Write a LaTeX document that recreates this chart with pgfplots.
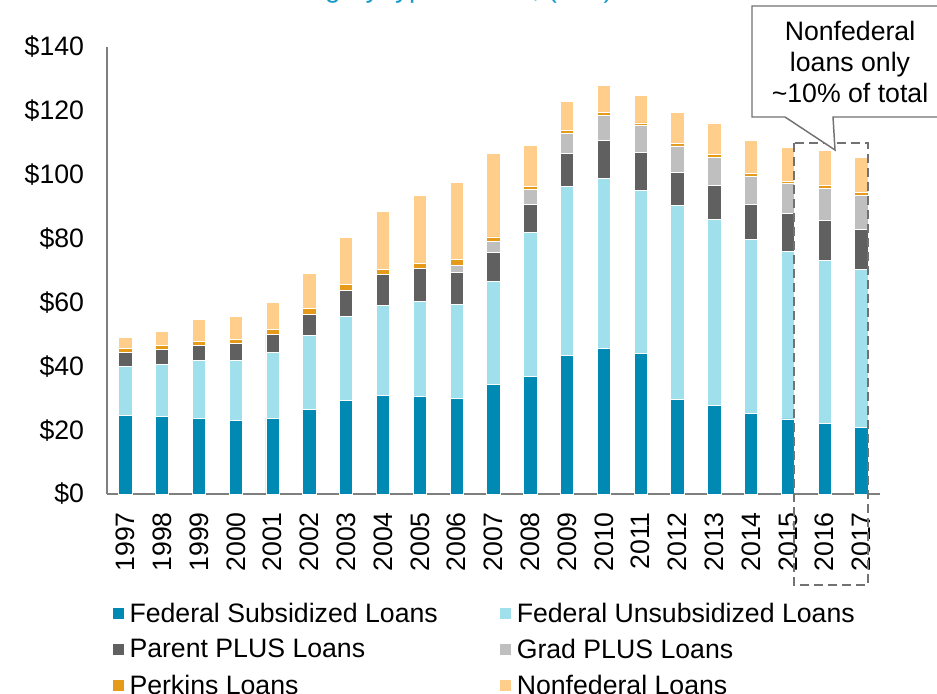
\documentclass[border=0pt]{standalone}
\usepackage{pgfplots}
\usepackage{pgfplotstable}
\pgfplotsset{compat=1.18}
\usepackage{fontspec}
\setmainfont{Liberation Sans}
\definecolor{csub}{HTML}{0089B3}
\definecolor{cuns}{HTML}{9FE0EC}
\definecolor{cpar}{HTML}{606060}
\definecolor{cgrad}{HTML}{BFBFBF}
\definecolor{cper}{HTML}{E59A1A}
\definecolor{cnon}{HTML}{FFCE8A}
\definecolor{ctitle}{HTML}{1A9AC8}
\definecolor{cline}{HTML}{7F7F7F}
\pgfplotstableread{
x sub uns par grad per non
0 24.5 15.5 4.2 0 1.3 3.6
1 24.4 16.3 4.5 0 1.3 4.4
2 23.7 18.0 4.8 0 1.4 6.7
3 23.1 18.7 5.2 0 1.4 7.2
4 23.8 20.5 5.6 0 1.5 8.6
5 26.4 23.2 6.7 0 1.7 11.2
6 29.2 26.3 8.3 0 1.8 14.6
7 30.8 28.2 9.7 0 1.6 18.3
8 30.5 29.7 10.4 0 1.7 21.3
9 30.0 29.5 9.8 2.4 1.6 24.4
10 34.2 32.4 9.0 3.5 1.4 26.3
11 36.7 45.3 8.6 4.8 1.0 12.7
12 43.3 52.9 10.3 6.5 0.9 8.9
13 45.5 53.3 11.9 7.8 0.9 8.5
14 44.1 50.9 12.1 8.2 0.9 8.5
15 29.6 60.7 10.4 8.3 0.9 9.6
16 27.7 58.2 10.8 8.6 1.0 9.9
17 25.2 54.4 11.1 8.7 1.0 10.4
18 23.5 52.4 12.1 9.2 0.8 10.6
19 22.0 51.1 12.7 9.9 0.9 10.9
20 20.9 49.4 12.6 10.5 0.9 11.1
}\data
\pgfplotsset{sq/.style={legend image code/.code={\fill[##1] (0pt,-4.5pt) rectangle (9pt,4.5pt); \path (10.5pt,0pt);}}}
\begin{document}
\begin{tikzpicture}
\path[use as bounding box] (0,0) rectangle (702.75pt,519.75pt);
\node[anchor=base east, text=ctitle, font=\fontsize{21}{24}\selectfont, inner sep=0pt] at (460pt,521.5pt) {Total amount borrowed in each category type of loan, (\$bn)};
\begin{axis}[
  at={(80.25pt,149.25pt)}, anchor=south west,
  scale only axis, width=579.75pt, height=335.25pt,
  ybar stacked, bar width=10pt,
  xmin=-0.5, xmax=20.5, ymin=0, ymax=140,
  axis lines=left,
  axis line style={-, cline, line width=1.5pt},
  major tick length=0pt,
  xtick={0,...,20},
  xticklabels={1997,1998,1999,2000,2001,2002,2003,2004,2005,2006,2007,2008,2009,2010,2011,2012,2013,2014,2015,2016,2017},
  ytick={0,20,...,140},
  yticklabels={\$0,\$20,\$40,\$60,\$80,\$100,\$120,\$140},
  tick label style={font=\fontsize{20}{24}\selectfont, inner sep=0pt},
  xticklabel style={rotate=90, anchor=east},
  xticklabel shift=13.5pt,
  yticklabel style={anchor=east},
  yticklabel shift=17pt,
  every axis plot/.append style={draw=white, line width=0.7pt},
  legend columns=2,
  legend cell align=left,
  legend style={at={(0.006,-0.237)}, anchor=north west, draw=none, fill=none,
    inner sep=0pt, font=\fontsize{20}{24}\selectfont, row sep=7pt,
    /tikz/every even column/.append style={column sep=44pt}},
]
\addplot[fill=csub, sq] table[x=x, y=sub] {\data};
\addlegendentry{Federal Subsidized Loans}
\addplot[fill=cuns, sq] table[x=x, y=uns] {\data};
\addlegendentry{Federal Unsubsidized Loans}
\addplot[fill=cpar, sq] table[x=x, y=par] {\data};
\addlegendentry{Parent PLUS Loans}
\addplot[fill=cgrad, sq] table[x=x, y=grad] {\data};
\addlegendentry{Grad PLUS Loans}
\addplot[fill=cper, sq] table[x=x, y=per] {\data};
\addlegendentry{Perkins Loans}
\addplot[fill=cnon, sq] table[x=x, y=non] {\data};
\addlegendentry{Nonfederal Loans}
\end{axis}
\begin{scope}[shift={(0pt,519.75pt)}, x=0.75pt, y=-0.75pt]
\draw[cline!90!black, line width=1.5pt, dash pattern=on 7pt off 3.5pt] (794,143) rectangle (868,585);
\draw[cline!90!black, line width=1.1pt, fill=white] (752,6) -- (752,117) -- (785,117) -- (835,150) -- (833,117) -- (950,117) -- (950,6) -- cycle;
\node[align=center, font=\fontsize{20}{23.25}\selectfont] at (850,62) {Nonfederal\\loans only\\\textasciitilde10\% of total};
\end{scope}
\end{tikzpicture}
\end{document}
